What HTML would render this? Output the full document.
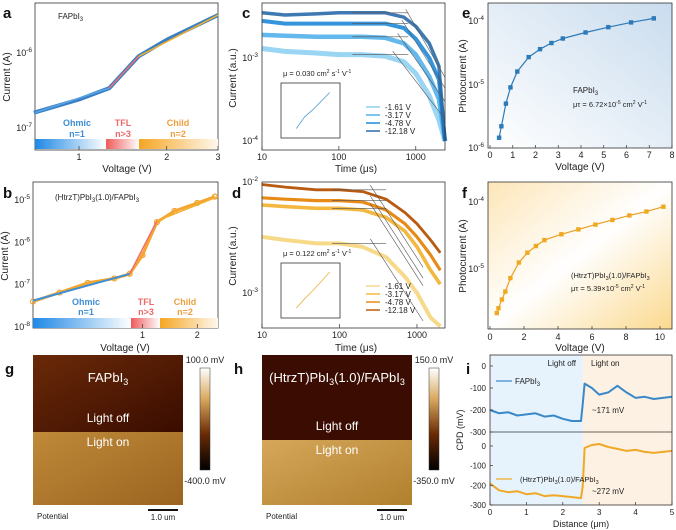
<!DOCTYPE html>
<html><head><meta charset="utf-8"><style>
body{margin:0;background:#fff}
svg{display:block;font-family:"Liberation Sans",sans-serif}
</style></head><body>
<svg id="s" width="676" height="530" viewBox="0 0 676 530">
<defs>
<linearGradient id="gBlue" x1="0" x2="1"><stop offset="0" stop-color="#1e88e5"/><stop offset="1" stop-color="#fff"/></linearGradient>
<linearGradient id="gRed" x1="0" x2="1"><stop offset="0" stop-color="#ef5a5a"/><stop offset="1" stop-color="#fff"/></linearGradient>
<linearGradient id="gOr" x1="0" x2="1"><stop offset="0" stop-color="#f5a623"/><stop offset="1" stop-color="#fff8ee"/></linearGradient>
<linearGradient id="eBg" x1="0" y1="1" x2="1" y2="0"><stop offset="0" stop-color="#fff"/><stop offset="1" stop-color="#c9dcee"/></linearGradient>
<linearGradient id="fBg" x1="0" y1="0" x2="1" y2="1"><stop offset="0" stop-color="#fde6b8"/><stop offset="0.5" stop-color="#fff"/><stop offset="1" stop-color="#fbd98e"/></linearGradient>
<linearGradient id="gTop" x1="0" y1="0" x2="1" y2="1"><stop offset="0" stop-color="#6a2a08"/><stop offset="1" stop-color="#3a0c00"/></linearGradient>
<linearGradient id="gBot" x1="0" y1="0" x2="1" y2="1"><stop offset="0" stop-color="#c08a3a"/><stop offset="1" stop-color="#9a6420"/></linearGradient>
<linearGradient id="hBot" x1="0" y1="0" x2="1" y2="1"><stop offset="0" stop-color="#d6a75a"/><stop offset="1" stop-color="#b0802e"/></linearGradient>
<linearGradient id="cbar" x1="0" y1="0" x2="0" y2="1"><stop offset="0" stop-color="#fff"/><stop offset="0.3" stop-color="#d9a960"/><stop offset="0.65" stop-color="#6a2a05"/><stop offset="1" stop-color="#000"/></linearGradient>
</defs>
</svg>
<script>
// ---- data ----
const aV=[0.7,1.0,1.27,1.6,2.0,3.0];
const aI=[1.6e-7,2.4e-7,3.4e-7,9e-7,1.5e-6,3.2e-6];
const bV=[0.25,0.35,0.5,0.7,0.85,1.0,1.2,1.5,2.0,2.5];
const bI=[4e-8,6.5e-8,1.1e-7,1.4e-7,1.8e-7,5e-7,3e-6,5.5e-6,8.5e-6,1.2e-5];
const cT=[10,20,50,100,200,400,700,1000,1500,2000,2400];
const c1=[1.3e-3,1.2e-3,1.15e-3,1.1e-3,1.1e-3,1.05e-3,9e-4,6.5e-4,3.5e-4,1.8e-4,1e-4];
const c2=[1.9e-3,1.85e-3,1.8e-3,1.8e-3,1.8e-3,1.75e-3,1.5e-3,1.1e-3,6e-4,3.2e-4,1e-4];
const c3=[2.8e-3,2.6e-3,2.6e-3,2.6e-3,2.6e-3,2.6e-3,2.3e-3,1.7e-3,1e-3,5.5e-4,1e-4];
const c4=[3.5e-3,3.3e-3,3.4e-3,3.5e-3,3.5e-3,3.5e-3,3.1e-3,2.4e-3,1.5e-3,8e-4,1e-4];
const dT=[10,20,50,100,200,400,700,1000,1500,2000];
const d1=[3.2e-3,3e-3,2.8e-3,2.8e-3,2.6e-3,2.1e-3,1.4e-3,1e-3,6e-4,5e-4];
const d2=[6.2e-3,6e-3,5.8e-3,5.8e-3,5.6e-3,4.8e-3,3.6e-3,2.6e-3,1.6e-3,1.2e-3];
const d3=[7.2e-3,7e-3,6.8e-3,6.8e-3,6.6e-3,5.6e-3,4.2e-3,3.2e-3,2.2e-3,1.6e-3];
const d4=[9.5e-3,9e-3,8.5e-3,8.5e-3,8.2e-3,7e-3,5.3e-3,4.2e-3,3e-3,2.3e-3];
const eV=[0.4,0.5,0.7,0.9,1.2,1.7,2.2,2.7,3.2,4.2,5.2,6.2,7.2];
const eI=[1.45e-6,2.2e-6,5e-6,9e-6,1.6e-5,2.7e-5,3.6e-5,4.5e-5,5.3e-5,6.6e-5,8e-5,9.5e-5,1.1e-4];
const fV=[0.4,0.5,0.7,0.9,1.2,1.7,2.2,2.7,3.2,4.2,5.2,6.2,7.2,8.2,9.2,10.2];
const fI=[2.2e-6,2.6e-6,3.5e-6,4.6e-6,7.3e-6,1.25e-5,1.75e-5,2.2e-5,2.7e-5,3.3e-5,3.9e-5,4.6e-5,5.4e-5,6.3e-5,7.2e-5,8.5e-5];
const iX=[0,0.25,0.5,0.75,1,1.25,1.5,1.75,2,2.25,2.5,2.55,2.6,2.8,3,3.25,3.5,3.75,4,4.25,4.5,4.75,5];
const iTop=[-200,-215,-210,-225,-220,-215,-230,-225,-240,-250,-250,-170,-80,-100,-130,-120,-90,-120,-145,-140,-150,-145,-140];
const iBot=[-190,-225,-235,-230,-245,-240,-255,-250,-255,-260,-265,-200,-10,5,10,-5,-15,-25,-20,-30,-35,-30,-25];
// ---- helpers ----
const S=document.getElementById('s'),NS='http://www.w3.org/2000/svg';
function el(t,a,txt){const e=document.createElementNS(NS,t);for(const k in a)e.setAttribute(k,a[k]);if(txt!=null)e.textContent=txt;S.appendChild(e);return e;}
function T(x,y,s,o){o=o||{};const e=el('text',{x:x,y:y,'font-size':o.fs||9,fill:o.c||'#222','text-anchor':o.a||'middle','font-weight':o.w||'normal'},s);


if(o.r)e.setAttribute('transform','rotate(-90 '+x+' '+y+')');return e;}
function logAx(p0,p1,v0,v1){return v=>p0+(Math.log10(v)-Math.log10(v0))/(Math.log10(v1)-Math.log10(v0))*(p1-p0);}
function linAx(p0,p1,v0,v1){return v=>p0+(v-v0)/(v1-v0)*(p1-p0);}
function line(xs,ys,X,Y,st,name){const d=xs.map((v,i)=>(i?'L':'M')+X(v).toFixed(1)+' '+Y(ys[i]).toFixed(1)).join('');
const p=el('path',Object.assign({d:d,fill:'none','stroke-linejoin':'round'},st));

return p;}
function box(x,y,w,h,name,fill){const r=el('rect',{x:x,y:y,width:w,height:h,fill:fill||'none',stroke:'#333','stroke-width':0.8});

return r;}
function tick(x1,y1,x2,y2){el('line',{x1:x1,y1:y1,x2:x2,y2:y2,stroke:'#333','stroke-width':0.7});}
function sup(x,y,base,exp,o){o=o||{};const e=el('text',{x:x,y:y,'font-size':9,fill:'#222','text-anchor':o.a||'end'});


e.innerHTML=base+'<tspan dy="-4" font-size="6.5">'+exp+'</tspan>';return e;}
function letter(x,y,s){T(x,y,s,{fs:15,w:'bold',a:'start',n:'panel-letter-'+s,c:'#111'});}

// ---- panel a ----
(function(){const X=logAx(35,218,0.706,3),Y=logAx(128,53,1e-7,1e-6);
letter(3,18,'a');box(35,3,183,147,'panel-a-plot');
el('rect',{x:35,y:139,width:71,height:10,fill:'url(#gBlue)'});el('rect',{x:106,y:139,width:33,height:10,fill:'url(#gRed)'});el('rect',{x:139,y:139,width:79,height:10,fill:'url(#gOr)'});
line(aV,aI,X,Y,{stroke:'#3b7fc4','stroke-width':4},'fapbi3-iv-data');
line([0.706,1.27],[1.6e-7,3.4e-7],X,Y,{stroke:'#5aa7e8','stroke-width':1.5},'ohmic-fit');
line([1.27,1.6],[3.4e-7,9e-7],X,Y,{stroke:'#f07070','stroke-width':1.5},'tfl-fit');
line([1.6,3],[9e-7,3.2e-6],X,Y,{stroke:'#f0b030','stroke-width':1.5},'child-fit');
[1,2,3].forEach(v=>{tick(X(v),150,X(v),146);T(X(v),160,v,{n:'x-tick'});});
sup(32,56,'10','-6');sup(32,131,'10','-7');
T(10,77,'Current (A)',{fs:10,r:1,n:'y-axis-title'});T(127,172,'Voltage (V)',{fs:10,n:'x-axis-title'});
T(58,19,'',{a:'start',fs:8,n:'sample-label'}).innerHTML='FAPbI<tspan font-size="6" dy="2">3</tspan>';
T(77,126,'Ohmic',{c:'#3d8fd6',w:'bold',n:'ohmic-label'});T(77,137,'n=1',{c:'#3d8fd6',w:'bold',n:'ohmic-n'});
T(123,126,'TFL',{c:'#ee6a6a',w:'bold',n:'tfl-label'});T(123,137,'n>3',{c:'#ee6a6a',w:'bold',n:'tfl-n'});
T(178,126,'Child',{c:'#eda040',w:'bold',n:'child-label'});T(178,137,'n=2',{c:'#eda040',w:'bold',n:'child-n'});})();

// ---- panel b ----
(function(){const X=logAx(33,218,0.25,2.6),Y=logAx(327,200,1e-8,1e-5);
letter(3,198,'b');box(33,182,185,146,'panel-b-plot');
el('rect',{x:33,y:318,width:98,height:10,fill:'url(#gBlue)'});el('rect',{x:131,y:318,width:29,height:10,fill:'url(#gRed)'});el('rect',{x:160,y:318,width:58,height:10,fill:'url(#gOr)'});
bV.forEach((v,i)=>{const c=el('circle',{cx:X(v),cy:Y(bI[i]),r:2.5,fill:'none',stroke:'#f0a030','stroke-width':1.2});});
line(bV,bI,X,Y,{stroke:'#f5a630','stroke-width':3},'htrzt-iv-data');
line([0.25,0.85],[4.2e-8,1.8e-7],X,Y,{stroke:'#3d8fd6','stroke-width':2},'ohmic-fit-b');
line([0.85,1.2],[1.8e-7,3.2e-6],X,Y,{stroke:'#f07070','stroke-width':1.5},'tfl-fit-b');
line([1.2,2.6],[3.2e-6,1.2e-5],X,Y,{stroke:'#f0b030','stroke-width':1.5},'child-fit-b');
[1,2].forEach(v=>{tick(X(v),328,X(v),324);T(X(v),338,v,{n:'x-tick'});});
[[-5,1e-5],[-6,1e-6],[-7,1e-7],[-8,1e-8]].forEach(a=>sup(30,Y(a[1])+3,'10',a[0]));
T(8,256,'Current (A)',{fs:10,r:1,n:'y-axis-title'});T(125,351,'Voltage (V)',{fs:10,n:'x-axis-title'});
T(55,200,'',{a:'start',fs:8,n:'sample-label'}).innerHTML='(HtrzT)PbI<tspan font-size="6" dy="2">3</tspan><tspan dy="-2">(1.0)/FAPbI</tspan><tspan font-size="6" dy="2">3</tspan>';
T(86,305,'Ohmic',{c:'#3d8fd6',w:'bold',n:'ohmic-label'});T(86,315,'n=1',{c:'#3d8fd6',w:'bold',n:'ohmic-n'});
T(146,305,'TFL',{c:'#ee6a6a',w:'bold',n:'tfl-label'});T(146,315,'n>3',{c:'#ee6a6a',w:'bold',n:'tfl-n'});
T(185,305,'Child',{c:'#eda040',w:'bold',n:'child-label'});T(185,315,'n=2',{c:'#eda040',w:'bold',n:'child-n'});})();

// ---- panel c ----
(function(){const X=logAx(262,445,10,2400),Y=logAx(141,58,1e-4,1e-3);
letter(242,18,'c');
const cols=['#8fd0f2','#52b0ea','#1e8ad8','#2a6aa8'];
[c1,c2,c3,c4].forEach((s,k)=>line(cT,s,X,Y,{stroke:cols[k],'stroke-width':5-k*0.5,'stroke-opacity':0.9},'tpc-trace-c-'+k));
[c1,c2,c3,c4].forEach((s,k)=>{line([150,800],[s[4],s[4]],X,Y,{stroke:'#555','stroke-width':0.6},'plateau-fit');line([500+k*80,2400],[s[4]*1.1,s[4]/6],X,Y,{stroke:'#555','stroke-width':0.6},'decay-fit');});
el('rect',{x:262,y:0,width:183,height:3,fill:'#fff'});
box(262,3,183,147,'panel-c-plot');
[[10,'10'],[100,'100'],[1000,'1000']].forEach(a=>{tick(X(a[0]),150,X(a[0]),146);T(X(a[0]),160,a[1],{n:'x-tick'});});
sup(258,61,'10','-3');sup(258,144,'10','-4');
T(236,78,'Current (a.u.)',{fs:10,r:1,n:'y-axis-title'});T(356,172,'Time (μs)',{fs:10,n:'x-axis-title'});
T(283,76,'',{a:'start',fs:7.5,n:'mobility-label'}).innerHTML='μ = 0.030 cm<tspan font-size="5" dy="-3">2</tspan><tspan dy="3"> s</tspan><tspan font-size="5" dy="-3">-1</tspan><tspan dy="3"> V</tspan><tspan font-size="5" dy="-3">-1</tspan>';
box(281,83,59,55,'inset-c');line([0.1,0.2,0.3,0.5],[600,730,810,1000],linAx(288,338,0,0.6),linAx(133,88,550,1050),{stroke:'#4a9ad0','stroke-width':0.8},'inset-fit-c');
['-1.61 V','-3.17 V','-4.78 V','-12.18 V'].forEach((l,k)=>{el('line',{x1:366,x2:380,y1:107+k*8,y2:107+k*8,stroke:cols[k],'stroke-width':1.5});T(385,110+k*8,l,{a:'start',fs:8,n:'legend-entry'});});})();

// ---- panel d ----
(function(){const X=logAx(262,445,10,2300),Y=logAx(293,182,1e-3,1e-2);
letter(232,198,'d');
const cols=['#f7d98a','#f2b840','#e88a18','#b85a10'];
[d1,d2,d3,d4].forEach((s,k)=>line(dT,s,X,Y,{stroke:cols[k],'stroke-width':4-k*0.4},'tpc-trace-d-'+k));
[d1,d2,d3,d4].forEach((s,k)=>{line([80,400],[s[3],s[3]],X,Y,{stroke:'#555','stroke-width':0.6},'plateau-fit');line([250,1200],[s[3]*1.1,s[3]/5],X,Y,{stroke:'#555','stroke-width':0.6},'decay-fit');});
box(262,182,183,146,'panel-d-plot');
[[10,'10'],[100,'100'],[1000,'1000']].forEach(a=>{tick(X(a[0]),328,X(a[0]),324);T(X(a[0]),338,a[1],{n:'x-tick'});});
sup(258,185,'10','-2');sup(258,296,'10','-3');
T(236,256,'Current (a.u.)',{fs:10,r:1,n:'y-axis-title'});T(356,351,'Time (μs)',{fs:10,n:'x-axis-title'});
T(283,256,'',{a:'start',fs:7.5,n:'mobility-label'}).innerHTML='μ = 0.122 cm<tspan font-size="5" dy="-3">2</tspan><tspan dy="3"> s</tspan><tspan font-size="5" dy="-3">-1</tspan><tspan dy="3"> V</tspan><tspan font-size="5" dy="-3">-1</tspan>';
box(281,263,59,55,'inset-d');line([0.1,0.2,0.3,0.5],[312,335,355,400],linAx(288,338,0,0.6),linAx(313,268,300,410),{stroke:'#e8b040','stroke-width':0.8},'inset-fit-d');
['-1.61 V','-3.17 V','-4.78 V','-12.18 V'].forEach((l,k)=>{el('line',{x1:366,x2:380,y1:286+k*8,y2:286+k*8,stroke:cols[k],'stroke-width':1.5});T(385,289+k*8,l,{a:'start',fs:8,n:'legend-entry'});});})();

// ---- panel e ----
(function(){const X=linAx(490,672,0,8),Y=logAx(148,21,1e-6,1e-4);
letter(462,18,'e');box(488,3,184,145,'panel-e-plot','url(#eBg)');
line(eV,eI,X,Y,{stroke:'#2d7ab8','stroke-width':1.2},'fit-curve-e');
eV.forEach((v,i)=>{const r=el('rect',{x:X(v)-2.2,y:Y(eI[i])-2.2,width:4.4,height:4.4,fill:'#2d7ab8'});});
for(let v=0;v<=8;v++){tick(X(v),148,X(v),145);T(X(v),158,v,{n:'x-tick'});}
sup(484,24,'10','-4');sup(484,88,'10','-5');sup(484,151,'10','-6');
T(466,76,'Photocurrent (A)',{fs:10,r:1,n:'y-axis-title'});T(580,170,'Voltage (V)',{fs:10,n:'x-axis-title'});
T(573,93,'',{a:'start',fs:8,n:'sample-label'}).innerHTML='FAPbI<tspan font-size="6" dy="2">3</tspan>';
T(573,107,'',{a:'start',fs:7.5,n:'mutau-label'}).innerHTML='μτ = 6.72×10<tspan font-size="5" dy="-3">-5</tspan><tspan dy="3"> cm</tspan><tspan font-size="5" dy="-3">2</tspan><tspan dy="3"> V</tspan><tspan font-size="5" dy="-3">-1</tspan>';})();

// ---- panel f ----
(function(){const X=linAx(490,660,0,10),Y=logAx(269,202,1e-5,1e-4);
letter(462,198,'f');box(488,182,184,147,'panel-f-plot','url(#fBg)');
line(fV,fI,X,Y,{stroke:'#e8a020','stroke-width':1.2},'fit-curve-f');
fV.forEach((v,i)=>{const r=el('rect',{x:X(v)-2.2,y:Y(fI[i])-2.2,width:4.4,height:4.4,fill:'#f0a820'});});
[0,2,4,6,8,10].forEach(v=>{tick(X(v),329,X(v),326);T(X(v),340,v,{n:'x-tick'});});
sup(484,205,'10','-4');sup(484,272,'10','-5');
T(466,256,'Photocurrent (A)',{fs:10,r:1,n:'y-axis-title'});T(580,351,'Voltage (V)',{fs:10,n:'x-axis-title'});
T(571,278,'',{a:'start',fs:7.5,n:'sample-label'}).innerHTML='(HtrzT)PbI<tspan font-size="5.5" dy="2">3</tspan><tspan dy="-2">(1.0)/FAPbI</tspan><tspan font-size="5.5" dy="2">3</tspan>';
T(571,291,'',{a:'start',fs:7.5,n:'mutau-label'}).innerHTML='μτ = 5.39×10<tspan font-size="5" dy="-3">-5</tspan><tspan dy="3"> cm</tspan><tspan font-size="5" dy="-3">2</tspan><tspan dy="3"> V</tspan><tspan font-size="5" dy="-3">-1</tspan>';})();

// ---- panels g,h (KPFM images) ----
function kp(x0,sep,top,bot,title,hi,lo,L){
letter(x0-28,374,L);
el('rect',{x:x0,y:355,width:150,height:sep-355,fill:top});
el('rect',{x:x0,y:sep,width:150,height:505-sep,fill:bot});
T(x0+75,382,'',{fs:13,c:'#fff',n:'image-title'}).innerHTML=title;
T(x0+75,sep-10,'Light off',{fs:12,c:'#fff',n:'light-off-label'});
T(x0+75,sep+14,'Light on',{fs:12,c:'#fff',n:'light-on-label'});
el('rect',{x:x0+167,y:368,width:10,height:102,fill:'url(#cbar)',stroke:'#333','stroke-width':0.5});
T(x0+172,363,hi,{fs:9,n:'colorbar-max'});T(x0+172,484,lo,{fs:9,n:'colorbar-min'});
T(x0+4,519,'Potential',{fs:8,a:'start',n:'potential-label'});
el('line',{x1:x0+115,x2:x0+145,y1:510,y2:510,stroke:'#111','stroke-width':2});T(x0+130,520,'1.0 um',{fs:8,n:'scale-bar-label'});}
kp(33,432,'url(#gTop)','url(#gBot)','FAPbI<tspan font-size="9" dy="3">3</tspan>','100.0 mV','-400.0 mV','g');
kp(262,440,'#3a0c02','url(#hBot)','(HtrzT)PbI<tspan font-size="9" dy="3">3</tspan><tspan dy="-3">(1.0)/FAPbI</tspan><tspan font-size="9" dy="3">3</tspan>','150.0 mV','-350.0 mV','h');

// ---- panel i ----
(function(){const X=linAx(490,672,0,5),Yt=linAx(366,432,0,-300),Yb=linAx(446,505,0,-300);
letter(466,374,'i');
el('rect',{x:490,y:355,width:X(2.55)-490,height:150,fill:'#e6f3fc'});el('rect',{x:X(2.55),y:355,width:672-X(2.55),height:150,fill:'#fcf1e2'});
line(iX,iTop,X,Yt,{stroke:'#3a88c8','stroke-width':2},'cpd-fapbi3');
line(iX,iBot,X,Yb,{stroke:'#f0a828','stroke-width':2},'cpd-htrzt');
box(490,355,182,150,'panel-i-plot');el('line',{x1:490,x2:672,y1:432,y2:432,stroke:'#333','stroke-width':0.8});
[0,-100,-200,-300].forEach(v=>{tick(490,Yt(v),493,Yt(v));T(486,Yt(v)+3,v,{fs:8,a:'end',n:'y-tick'});});
[0,-100,-200,-300].forEach(v=>{tick(490,Yb(v),493,Yb(v));T(486,Yb(v)+3,v,{fs:8,a:'end',n:'y-tick'});});
for(let v=0;v<=5;v++){tick(X(v),505,X(v),502);T(X(v),515,v,{fs:8,n:'x-tick'});}
T(463,430,'CPD (mV)',{fs:9,r:1,n:'y-axis-title'});T(581,527,'Distance (μm)',{fs:9,n:'x-axis-title'});
T(576,366,'Light off',{fs:8,a:'end',n:'light-off-label'});T(591,366,'Light on',{fs:8,a:'start',n:'light-on-label'});
el('line',{x1:496,x2:512,y1:381,y2:381,stroke:'#3a88c8','stroke-width':1.2});T(515,384,'',{fs:8,a:'start',n:'legend-entry'}).innerHTML='FAPbI<tspan font-size="6" dy="2">3</tspan>';
el('line',{x1:496,x2:512,y1:479,y2:479,stroke:'#f0a828','stroke-width':1.2});
T(520,482,'',{fs:7.5,a:'start',n:'legend-entry'}).innerHTML='(HtrzT)PbI<tspan font-size="5.5" dy="2">3</tspan><tspan dy="-2">(1.0)/FAPbI</tspan><tspan font-size="5.5" dy="2">3</tspan>';
T(592,413,'~171 mV',{fs:8,a:'start',n:'delta-cpd-top'});T(592,494,'~272 mV',{fs:8,a:'start',n:'delta-cpd-bottom'});})();
</script>
</body></html>
